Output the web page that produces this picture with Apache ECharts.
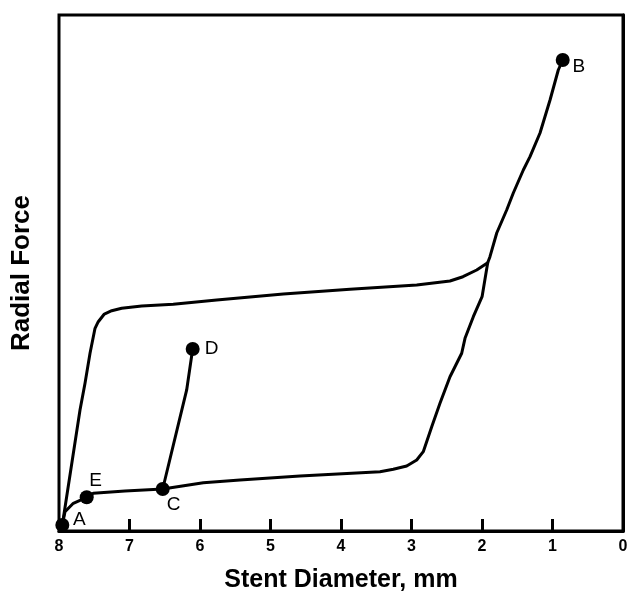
<!DOCTYPE html>
<html>
<head>
<meta charset="utf-8">
<script src="https://cdn.jsdelivr.net/npm/echarts@6/dist/echarts.min.js"></script>
<style>
html,body{margin:0;padding:0;background:#fff;}
#chart{width:633px;height:592px;}
</style>
</head>
<body>
<div id="chart"></div>
<script>
// Tick labels on the diameter axis
const xTicks = [8, 7, 6, 5, 4, 3, 2, 1, 0];

// Loading path A -> plateau -> B  [diameter mm, radial force (arb.)]
const loadingDiameter = [7.953, 7.702, 7.631, 7.560, 7.489, 7.443, 7.357, 7.252, 7.111, 6.827, 6.379, 5.763, 4.818, 3.872, 2.926, 2.454, 2.270, 2.075, 1.919, 1.887, 1.791, 1.650, 1.556, 1.414, 1.319, 1.177, 1.035, 0.918, 0.855];
const loadingForce    = [1.16, 23.45, 28.62, 34.44, 39.28, 40.56, 42.05, 42.69, 43.16, 43.60, 43.93, 44.77, 45.93, 46.84, 47.67, 48.45, 49.28, 50.58, 52.00, 53.16, 57.75, 62.21, 65.50, 69.96, 72.54, 77.13, 83.53, 89.34, 91.28];

// Unloading path (from crossing point) -> C -> E -> A
const unloadDiameter = [1.919, 1.999, 2.123, 2.241, 2.288, 2.454, 2.596, 2.713, 2.833, 2.926, 3.068, 3.258, 3.447, 4.582, 5.433, 5.953, 6.529, 7.064, 7.513, 7.607, 7.797, 7.915, 7.953];
const unloadForce    = [52.00, 45.41, 41.53, 37.34, 34.44, 29.90, 24.74, 20.21, 15.37, 13.76, 12.60, 11.96, 11.49, 10.66, 9.88, 9.36, 8.14, 7.75, 7.30, 6.53, 5.37, 3.74, 1.16];

// Reloading path C -> D
const reloadDiameter = [6.529, 6.189, 6.104];
const reloadForce    = [8.14, 27.33, 35.27];

// Marked points
const pointNames    = ['A', 'E', 'C', 'D', 'B'];
const pointDiameter = [7.953, 7.607, 6.529, 6.104, 0.855];
const pointForce    = [1.16, 6.53, 8.14, 35.27, 91.28];
const labelOffsets  = {A: [17, -5], E: [9, -17], C: [11, 16], D: [19, 0], B: [16, 7]};

const zip = (xs, ys) => xs.map((x, i) => [x, ys[i]]);

const lineStyle = {color: '#000', width: 3, opacity: 1, join: 'round', cap: 'round'};
const chart = echarts.init(document.getElementById('chart'));
chart.setOption({
  animation: false,
  backgroundColor: '#fff',
  grid: {left: 59, right: 10, top: 15, bottom: 61, show: true, borderColor: '#000', borderWidth: 3,
    containLabel: false, outerBoundsMode: 'none'},
  xAxis: {
    type: 'value', min: 0, max: 8, interval: 1, inverse: true,
    name: 'Stent Diameter, mm', nameLocation: 'middle', nameGap: 37,
    nameTextStyle: {fontFamily: 'Liberation Sans', fontWeight: 'bold', fontSize: 25, color: '#000'},
    axisLine: {lineStyle: {color: '#000', width: 3}},
    axisTick: {inside: true, length: 12, lineStyle: {color: '#000', width: 3}},
    axisLabel: {margin: 8, fontFamily: 'Liberation Sans', fontWeight: 'bold', fontSize: 16, color: '#000',
      formatter: v => xTicks.includes(v) ? String(v) : ''},
    splitLine: {show: false}
  },
  yAxis: {
    type: 'value', min: 0, max: 100,
    name: 'Radial Force', nameLocation: 'middle', nameGap: 24,
    nameTextStyle: {fontFamily: 'Liberation Sans', fontWeight: 'bold', fontSize: 26, color: '#000'},
    axisLine: {show: true, lineStyle: {color: '#000', width: 3}},
    axisTick: {show: false}, axisLabel: {show: false}, splitLine: {show: false}
  },
  series: [
    {type: 'line', data: zip(loadingDiameter, loadingForce), showSymbol: false, smooth: false, lineStyle, clip: false},
    {type: 'line', data: zip(unloadDiameter, unloadForce), showSymbol: false, smooth: false, lineStyle, clip: false},
    {type: 'line', data: zip(reloadDiameter, reloadForce), showSymbol: false, lineStyle, clip: false},
    {type: 'scatter', symbolSize: 14, clip: false, itemStyle: {color: '#000', opacity: 1},
      data: pointNames.map((n, i) => ({
        value: [pointDiameter[i], pointForce[i]], name: n,
        label: {show: true, position: 'inside', offset: labelOffsets[n], formatter: n,
          fontFamily: 'Liberation Sans', fontSize: 19, color: '#000'}
      }))}
  ]
});
</script>
</body>
</html>
